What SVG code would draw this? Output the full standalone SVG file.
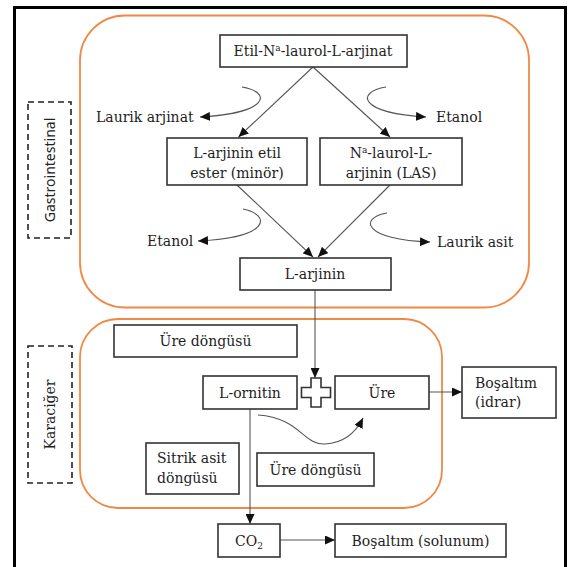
<svg xmlns="http://www.w3.org/2000/svg" width="571" height="567" viewBox="0 0 571 567">
<style>
.t{font-family:"DejaVu Serif","Liberation Serif",serif;font-size:14px;fill:#1e1e1e;}
.box{fill:#fff;stroke:#333;stroke-width:1.6;}
.org{fill:none;stroke:#ee8a45;stroke-width:1.8;}
.dash{fill:#fff;stroke:#222;stroke-width:1.6;stroke-dasharray:6,4;}
.c{fill:none;stroke:#555;stroke-width:1.1;}
</style>
<defs>
<marker id="ah" markerUnits="userSpaceOnUse" markerWidth="10" markerHeight="9" refX="10" refY="4.5" orient="auto">
<path d="M0,0 L10,4.5 L0,9 z" fill="#111"/>
</marker>
</defs>
<rect x="0" y="0" width="571" height="567" fill="#fff"/>
<rect x="14.5" y="7.5" width="551" height="565" fill="none" stroke="#000" stroke-width="3"/>

<g id="region-gi">
<rect class="org" x="80" y="15.5" width="449" height="292" rx="45" ry="45"/>
</g>
<g id="region-liver">
<rect class="org" x="80" y="319" width="362" height="189" rx="38" ry="38"/>
</g>

<g id="label-gastro">
<rect class="dash" x="28" y="102" width="43" height="136"/>
<text x="0" y="0" transform="translate(55,170) rotate(-90)" text-anchor="middle" style="font-family:'Noto Sans','Open Sans',sans-serif;font-size:14px;fill:#222">Gastrointestinal</text>
</g>
<g id="label-karaciger">
<rect class="dash" x="28" y="346" width="44" height="137"/>
<text class="t" x="0" y="0" transform="translate(55,414.5) rotate(-90)" text-anchor="middle">Karaciğer</text>
</g>

<g id="connectors">
<line class="c" x1="313" y1="67" x2="238.5" y2="137" marker-end="url(#ah)"/>
<line class="c" x1="313" y1="67" x2="390" y2="137" marker-end="url(#ah)"/>
<line class="c" x1="237" y1="185" x2="313" y2="257" marker-end="url(#ah)"/>
<line class="c" x1="390" y1="185" x2="318" y2="257" marker-end="url(#ah)"/>
<line class="c" x1="315" y1="290" x2="315" y2="378" marker-end="url(#ah)"/>
<line class="c" x1="429" y1="392" x2="462" y2="392" marker-end="url(#ah)"/>
<line class="c" x1="250" y1="409" x2="250" y2="524" marker-end="url(#ah)"/>
<line class="c" x1="280" y1="540" x2="335" y2="540" marker-end="url(#ah)"/>
<path class="c" d="M242,87 C272,92 270,113 200,117" marker-end="url(#ah)"/>
<path class="c" d="M386,87 C356,92 358,113 426,117" marker-end="url(#ah)"/>
<path class="c" d="M243,209 C272,215 270,238 198,241" marker-end="url(#ah)"/>
<path class="c" d="M387,213 C358,218 364,240 430,242" marker-end="url(#ah)"/>
<path class="c" d="M258,415 C300,418 303,445 325,444 C345,443 356,432 363,418" marker-end="url(#ah)"/>
</g>

<g id="n-etil">
<rect class="box" x="220" y="35" width="187" height="32"/>
<text class="t" x="313" y="56" text-anchor="middle">Etil-N<tspan dy="-5" font-size="9">a</tspan><tspan dy="5">-laurol-L-arjinat</tspan></text>
</g>
<g id="n-ester">
<rect class="box" x="167" y="138" width="140" height="47"/>
<text class="t" x="237" y="158" text-anchor="middle">L-arjinin etil</text>
<text class="t" x="237" y="178" text-anchor="middle">ester (minör)</text>
</g>
<g id="n-las">
<rect class="box" x="320" y="138" width="142" height="47"/>
<text class="t" x="391" y="158" text-anchor="middle">N<tspan dy="-5" font-size="9">a</tspan><tspan dy="5">-laurol-L-</tspan></text>
<text class="t" x="391" y="178" text-anchor="middle">arjinin (LAS)</text>
</g>
<g id="n-laurik-arjinat"><text class="t" x="96" y="122">Laurik arjinat</text></g>
<g id="n-etanol1"><text class="t" x="436" y="122">Etanol</text></g>
<g id="n-etanol2"><text class="t" x="147" y="246">Etanol</text></g>
<g id="n-laurik-asit"><text class="t" x="437" y="247">Laurik asit</text></g>
<g id="n-larjinin">
<rect class="box" x="240" y="258" width="151" height="32"/>
<text class="t" x="315" y="279" text-anchor="middle">L-arjinin</text>
</g>
<g id="n-ure-dongusu1">
<rect class="box" x="114" y="325" width="183" height="32"/>
<text class="t" x="205.5" y="346" text-anchor="middle">Üre döngüsü</text>
</g>
<g id="n-lornitin">
<rect class="box" x="203" y="376" width="94" height="33"/>
<text class="t" x="250" y="397.5" text-anchor="middle">L-ornitin</text>
</g>
<g id="n-plus">
<path class="box" d="M311,378 H321 V387.5 H330.5 V397.5 H321 V407 H311 V397.5 H301.5 V387.5 H311 Z"/>
</g>
<g id="n-ure">
<rect class="box" x="335" y="376" width="94" height="33"/>
<text class="t" x="382" y="397.5" text-anchor="middle">Üre</text>
</g>
<g id="n-bosaltim-idrar">
<rect class="box" x="462" y="367" width="94" height="51"/>
<text class="t" x="475" y="388">Boşaltım</text>
<text class="t" x="475" y="407">(idrar)</text>
</g>
<g id="n-sitrik">
<rect class="box" x="146" y="443" width="93" height="51"/>
<text class="t" x="157" y="463">Sitrik asit</text>
<text class="t" x="157" y="483">döngüsü</text>
</g>
<g id="n-ure-dongusu2">
<rect class="box" x="257" y="453" width="117" height="33"/>
<text class="t" x="315.5" y="474.5" text-anchor="middle">Üre döngüsü</text>
</g>
<g id="n-co2">
<rect class="box" x="218" y="524" width="62" height="33"/>
<text class="t" x="249" y="545.5" text-anchor="middle">CO<tspan dy="3" font-size="9">2</tspan></text>
</g>
<g id="n-bosaltim-solunum">
<rect class="box" x="335" y="524" width="171" height="33"/>
<text class="t" x="420.5" y="545.5" text-anchor="middle">Boşaltım (solunum)</text>
</g>
</svg>
